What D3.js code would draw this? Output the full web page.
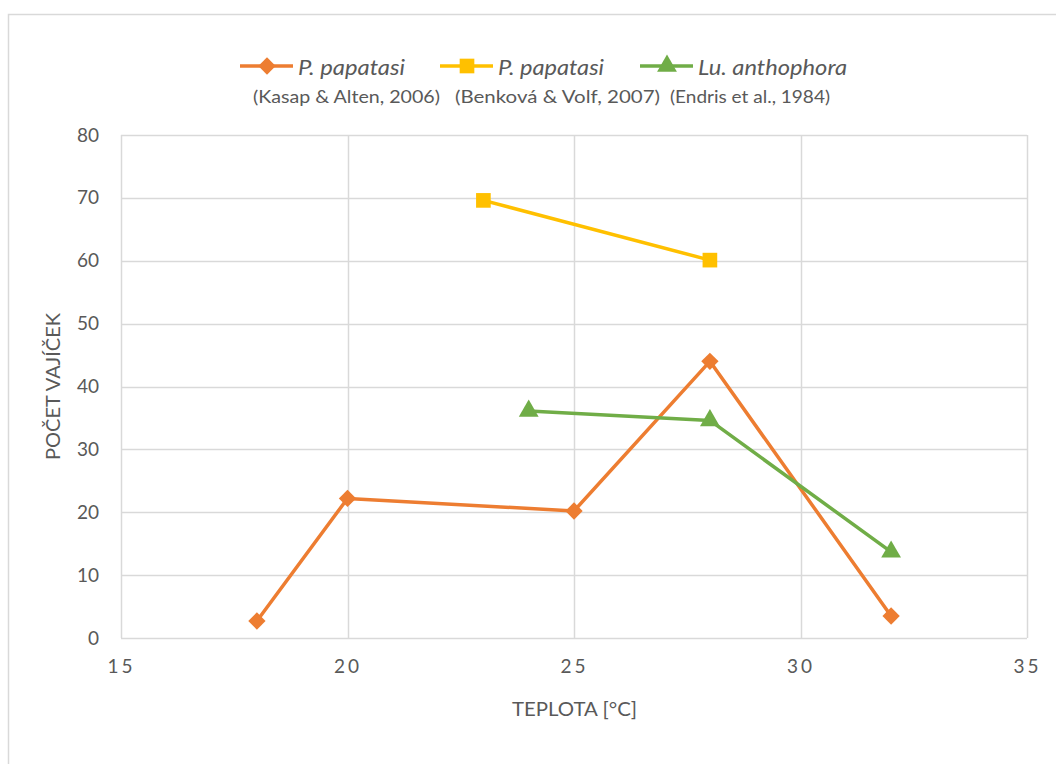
<!DOCTYPE html>
<html><head><meta charset="utf-8">
<script src="https://cdn.jsdelivr.net/npm/d3@7"></script>
<style>
body{margin:0;background:#fff;}
text{font-family:Lato,"Open Sans",sans-serif;fill:#595959;}
</style></head>
<body><svg id="c" width="1056" height="764"></svg>
<script>
const kasapX = [18, 20, 25, 28, 32];
const kasapY = [2.7, 22.2, 20.2, 44.0, 3.5];
const benkovaX = [23, 28];
const benkovaY = [69.6, 60.1];
const endrisX = [24, 28, 32];
const endrisY = [36.1, 34.6, 13.7];
const xTicks = [15, 20, 25, 30, 35];
const yTicks = [0, 10, 20, 30, 40, 50, 60, 70, 80];
const seriesNames = ["P. papatasi", "P. papatasi", "Lu. anthophora"];
const seriesRefs = ["(Kasap & Alten, 2006)", "(Benková & Volf, 2007)", "(Endris et al., 1984)"];
const colors = ["#ED7D31", "#FFC000", "#70AD47"];

const svg = d3.select("#c");
svg.append("rect").attr("x",8.5).attr("y",14.5).attr("width",1100).attr("height",800)
  .attr("fill","#fff").attr("stroke","#d9d9d9").attr("stroke-width",1.5);

const x = d3.scaleLinear().domain([15,35]).range([121,1027]);
const y = d3.scaleLinear().domain([0,80]).range([638,135]);

const g = svg.append("g");
g.selectAll(".hg").data(yTicks).join("line")
  .attr("x1",x(15)).attr("x2",x(35)).attr("y1",d=>Math.round(y(d))+0.5).attr("y2",d=>Math.round(y(d))+0.5)
  .attr("stroke","#d9d9d9").attr("stroke-width",1.5);
g.selectAll(".vg").data(xTicks).join("line")
  .attr("y1",y(0)).attr("y2",y(80)).attr("x1",d=>Math.round(x(d))+0.5).attr("x2",d=>Math.round(x(d))+0.5)
  .attr("stroke","#d9d9d9").attr("stroke-width",1.5);

const xa = svg.append("g").attr("transform",`translate(0,${y(0)})`)
  .call(d3.axisBottom(x).tickValues(xTicks).tickSize(0).tickPadding(22));
xa.select(".domain").remove();
xa.selectAll("text").attr("font-size",19).attr("letter-spacing","3px").attr("fill","#595959")
  .style("font-family","Lato,'Open Sans',sans-serif");
const ya = svg.append("g").attr("transform",`translate(${x(15)},0)`)
  .call(d3.axisLeft(y).tickValues(yTicks).tickSize(0).tickPadding(22));
ya.select(".domain").remove();
ya.selectAll("text").attr("font-size",19).attr("fill","#595959")
  .style("font-family","Lato,'Open Sans',sans-serif");

svg.append("text").attr("x",512).attr("y",716)
  .attr("font-size",20).attr("textLength",125).attr("lengthAdjust","spacingAndGlyphs").text("TEPLOTA [°C]");
svg.append("text").attr("transform","translate(60,460) rotate(-90)")
  .attr("font-size",20).attr("textLength",147).attr("lengthAdjust","spacingAndGlyphs").text("POČET VAJÍČEK");

const line = d3.line().x(d=>x(d[0])).y(d=>y(d[1]));
const series = [
  d3.zip(kasapX,kasapY), d3.zip(benkovaX,benkovaY), d3.zip(endrisX,endrisY)
];
const symbols = [
  d3.symbol().type(d3.symbolSquare).size(150),
  d3.symbol().type(d3.symbolSquare).size(215),
  d3.symbol().type(d3.symbolTriangle).size(170)
];
const rot = [45,0,0];
series.forEach((s,i)=>{
  svg.append("path").datum(s).attr("d",line).attr("fill","none")
    .attr("stroke",colors[i]).attr("stroke-width",3.5).attr("stroke-linejoin","round");
  svg.selectAll(".m"+i).data(s).join("path")
    .attr("transform",d=>`translate(${x(d[0])},${y(d[1])}) rotate(${rot[i]})`)
    .attr("d",symbols[i]).attr("fill",colors[i]);
});

// legend
const legX = [240, 440, 640];
const legW = [107, 106, 149];
const refX = [253, 455, 670];
const refW = [187, 205, 160];
seriesNames.forEach((n,i)=>{
  const lg = svg.append("g").attr("transform",`translate(${legX[i]},66)`);
  lg.append("line").attr("x1",0).attr("x2",53).attr("stroke",colors[i]).attr("stroke-width",3.5);
  lg.append("path").attr("transform",`translate(27,0) rotate(${rot[i]})`).attr("d",symbols[i]).attr("fill",colors[i]);
  lg.append("text").attr("x",58).attr("y",9).attr("font-size",22).attr("font-style","italic")
    .attr("textLength",legW[i]).attr("lengthAdjust","spacingAndGlyphs").text(n);
  svg.append("text").attr("x",refX[i]).attr("y",103)
    .attr("font-size",18).attr("textLength",refW[i]).attr("lengthAdjust","spacingAndGlyphs").text(seriesRefs[i]);
});
</script></body></html>
